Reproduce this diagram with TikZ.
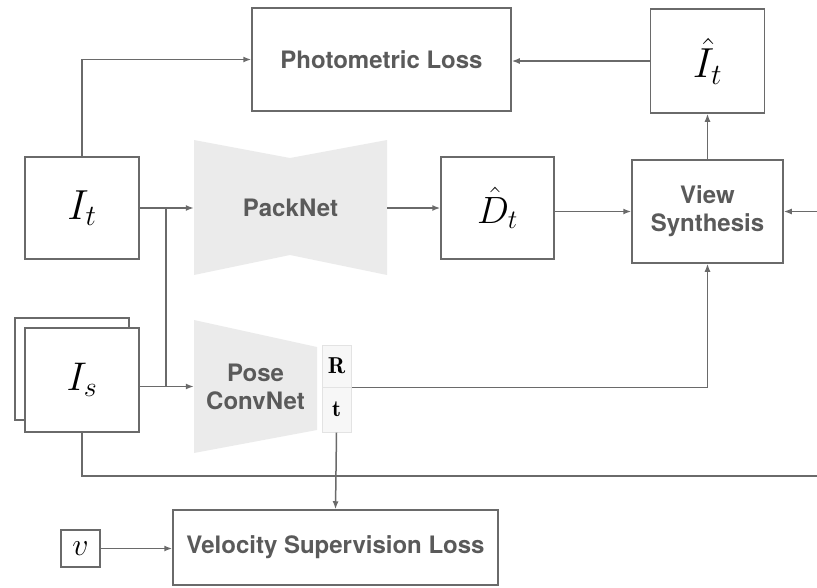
\RequirePackage{fix-cm}
\documentclass[tikz,border=0pt]{standalone}
\usepackage{fontspec}
\setsansfont{TeX Gyre Heros}
\usetikzlibrary{arrows.meta}

\definecolor{linegray}{HTML}{6A6A6A}
\definecolor{textgray}{HTML}{5A5A5A}
\definecolor{netgray}{HTML}{EBEBEB}

\tikzset{
	box/.style={draw=linegray, line width=1.5pt, inner sep=0pt, fill=white},
	rtbox/.style={draw=gray!22, fill=gray!6, line width=1pt, inner sep=0pt},
	lbl/.style={font=\sffamily\bfseries\fontsize{24}{28}\selectfont, text=textgray, align=center},
	conn/.style={draw=linegray, line width=1.5pt, -{Latex[length=8pt,width=6pt]}},
	wire/.style={draw=linegray, line width=1.5pt},
}

\newcommand{\msize}[2]{{\fontsize{#1}{#1}\selectfont$#2$}}

\begin{document}
\begin{tikzpicture}[x=1pt,y=-1pt]
\useasboundingbox (0,0) rectangle (817,587);

\pgfmathsetmacro{\colA}{82}
\pgfmathsetmacro{\colV}{707.5}
\pgfmathsetmacro{\rowT}{208}
\pgfmathsetmacro{\rowS}{386.5}

% the two networks
\fill[netgray] (194,140) -- (290,158) -- (387,140) -- (387,275) -- (290,255) -- (194,275) -- cycle;
\fill[netgray] (194,320) -- (317,347) -- (317,430) -- (194,453) -- cycle;
\node[lbl, minimum width=193, minimum height=135, inner sep=0pt] (pack) at (290.5,\rowT) {PackNet};
\node[lbl, minimum width=123, minimum height=133, inner sep=0pt] (pose) at (255.5,\rowS) {Pose\\ConvNet};
\node[rtbox, minimum width=29, minimum height=42] (rot) at (336.5,366) {\msize{23}{\mathbf{R}}};
\node[rtbox, minimum width=29, minimum height=45] (tra) at (336.5,409.5) {\msize{23}{\mathbf{t}}};

\node[box, minimum width=259, minimum height=103, lbl] (photo) at (381.5,59.5) {Photometric Loss};
\node[box, minimum width=114, minimum height=104] (ihat) at (\colV,61) {\msize{42}{\hat{I}_t}};
\node[box, minimum width=114, minimum height=102] (it) at (\colA,\rowT) {\msize{42}{I_t}};
\node[box, minimum width=113, minimum height=102] (dhat) at (497.5,\rowT) {\msize{38}{\hat{D}_t}};
\node[box, minimum width=151, minimum height=103, lbl] (vs) at (\colV,211.5) {View\\Synthesis};

% stacked source frames
\node[box, minimum width=114, minimum height=102] (isback) at (\colA-10,369) {};
\node[box, minimum width=114, minimum height=104] (is) at (\colA,380) {\msize{40}{I_s}};

\node[box, minimum width=325, minimum height=75, lbl] (vloss) at (335.5,547.5) {Velocity Supervision Loss};
\node[box, minimum width=39, minimum height=37] (vel) at (80.5,548.5) {\msize{32}{v}};

\coordinate (split) at (166,\rowT);
\coordinate (rin) at (817,211.5);
\coordinate (rout) at (817,476);

\draw[conn] (it.north) |- (photo.west);
\draw[conn] (ihat.west) -- (ihat.west -| photo.east);
\draw[conn] (vs.north) -- (ihat.south);
\draw[wire] (it.east) -- (split);
\draw[conn] (split) -- (pack.west);
\draw[wire] (split) -- (split |- pose.west);
\draw[conn] (is.east |- pose.west) -- (pose.west);
\draw[conn] (pack.east) -- (dhat.west);
\draw[conn] (dhat.east |- vs.west) -- (vs.west);
\draw[conn] (rin) -- (vs.east);
\draw[conn] (rot.south east) -| (vs.south);
\draw[wire] (is.south) |- (rout);
\draw[conn] (tra.south) -- (vloss.north);
\draw[conn] (vel.east) -- (vel.east -| vloss.west);
\end{tikzpicture}
\end{document}
